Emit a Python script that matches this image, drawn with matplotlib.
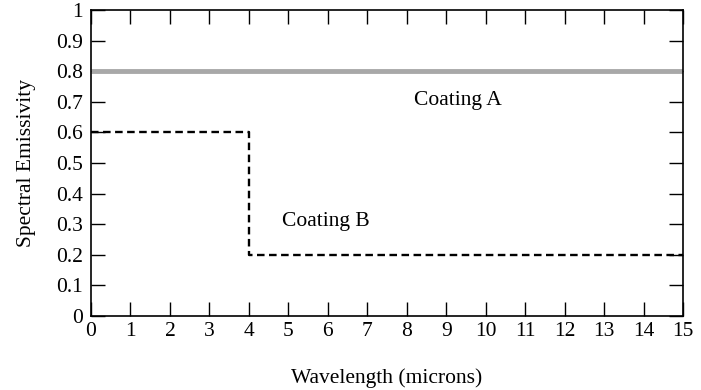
import numpy as np
import matplotlib.pyplot as plt

plt.rcParams['font.family'] = ['Liberation Serif', 'DejaVu Serif']

# emissivity data
wl_a = [0, 15]
eps_a = [0.8, 0.8]
wl_b = [0, 4, 4, 15]
eps_b = [0.6, 0.6, 0.2, 0.2]

xticks = list(range(16))
yticks = [0, 0.1, 0.2, 0.3, 0.4, 0.5, 0.6, 0.7, 0.8, 0.9, 1]
ylabels = ['0', '0.1', '0.2', '0.3', '0.4', '0.5', '0.6', '0.7', '0.8', '0.9', '1']

fig = plt.figure(figsize=(7.01, 3.90), dpi=100)
ax = fig.add_axes([0.1298, 0.1897, 0.8445, 0.7847])

ax.plot(wl_a, eps_a, color='#a8a8a8', lw=3.5, solid_capstyle='butt')
ax.plot(wl_b, eps_b, color='black', lw=1.7, linestyle=(0, (3.2, 1.9)))

ax.text(9.3, 0.705, 'Coating A', fontsize=15.5, ha='center', va='center')
ax.text(5.95, 0.31, 'Coating B', fontsize=15.5, ha='center', va='center')

ax.set_xlim(0, 15)
ax.set_ylim(0, 1)
ax.set_xticks(xticks)
ax.set_yticks(yticks)
ax.set_yticklabels(ylabels)
ax.tick_params(direction='in', length=10, width=1, top=True, right=True,
               labelsize=15.5)
ax.tick_params(axis='x', pad=4)
ax.tick_params(axis='y', pad=6)
for s in ax.spines.values():
    s.set_linewidth(1.2)

ax.set_xlabel('Wavelength (microns)', fontsize=15.5, labelpad=20)
ax.set_ylabel('Spectral Emissivity', fontsize=15.5, labelpad=14)

fig.savefig('out.png', dpi=100)
